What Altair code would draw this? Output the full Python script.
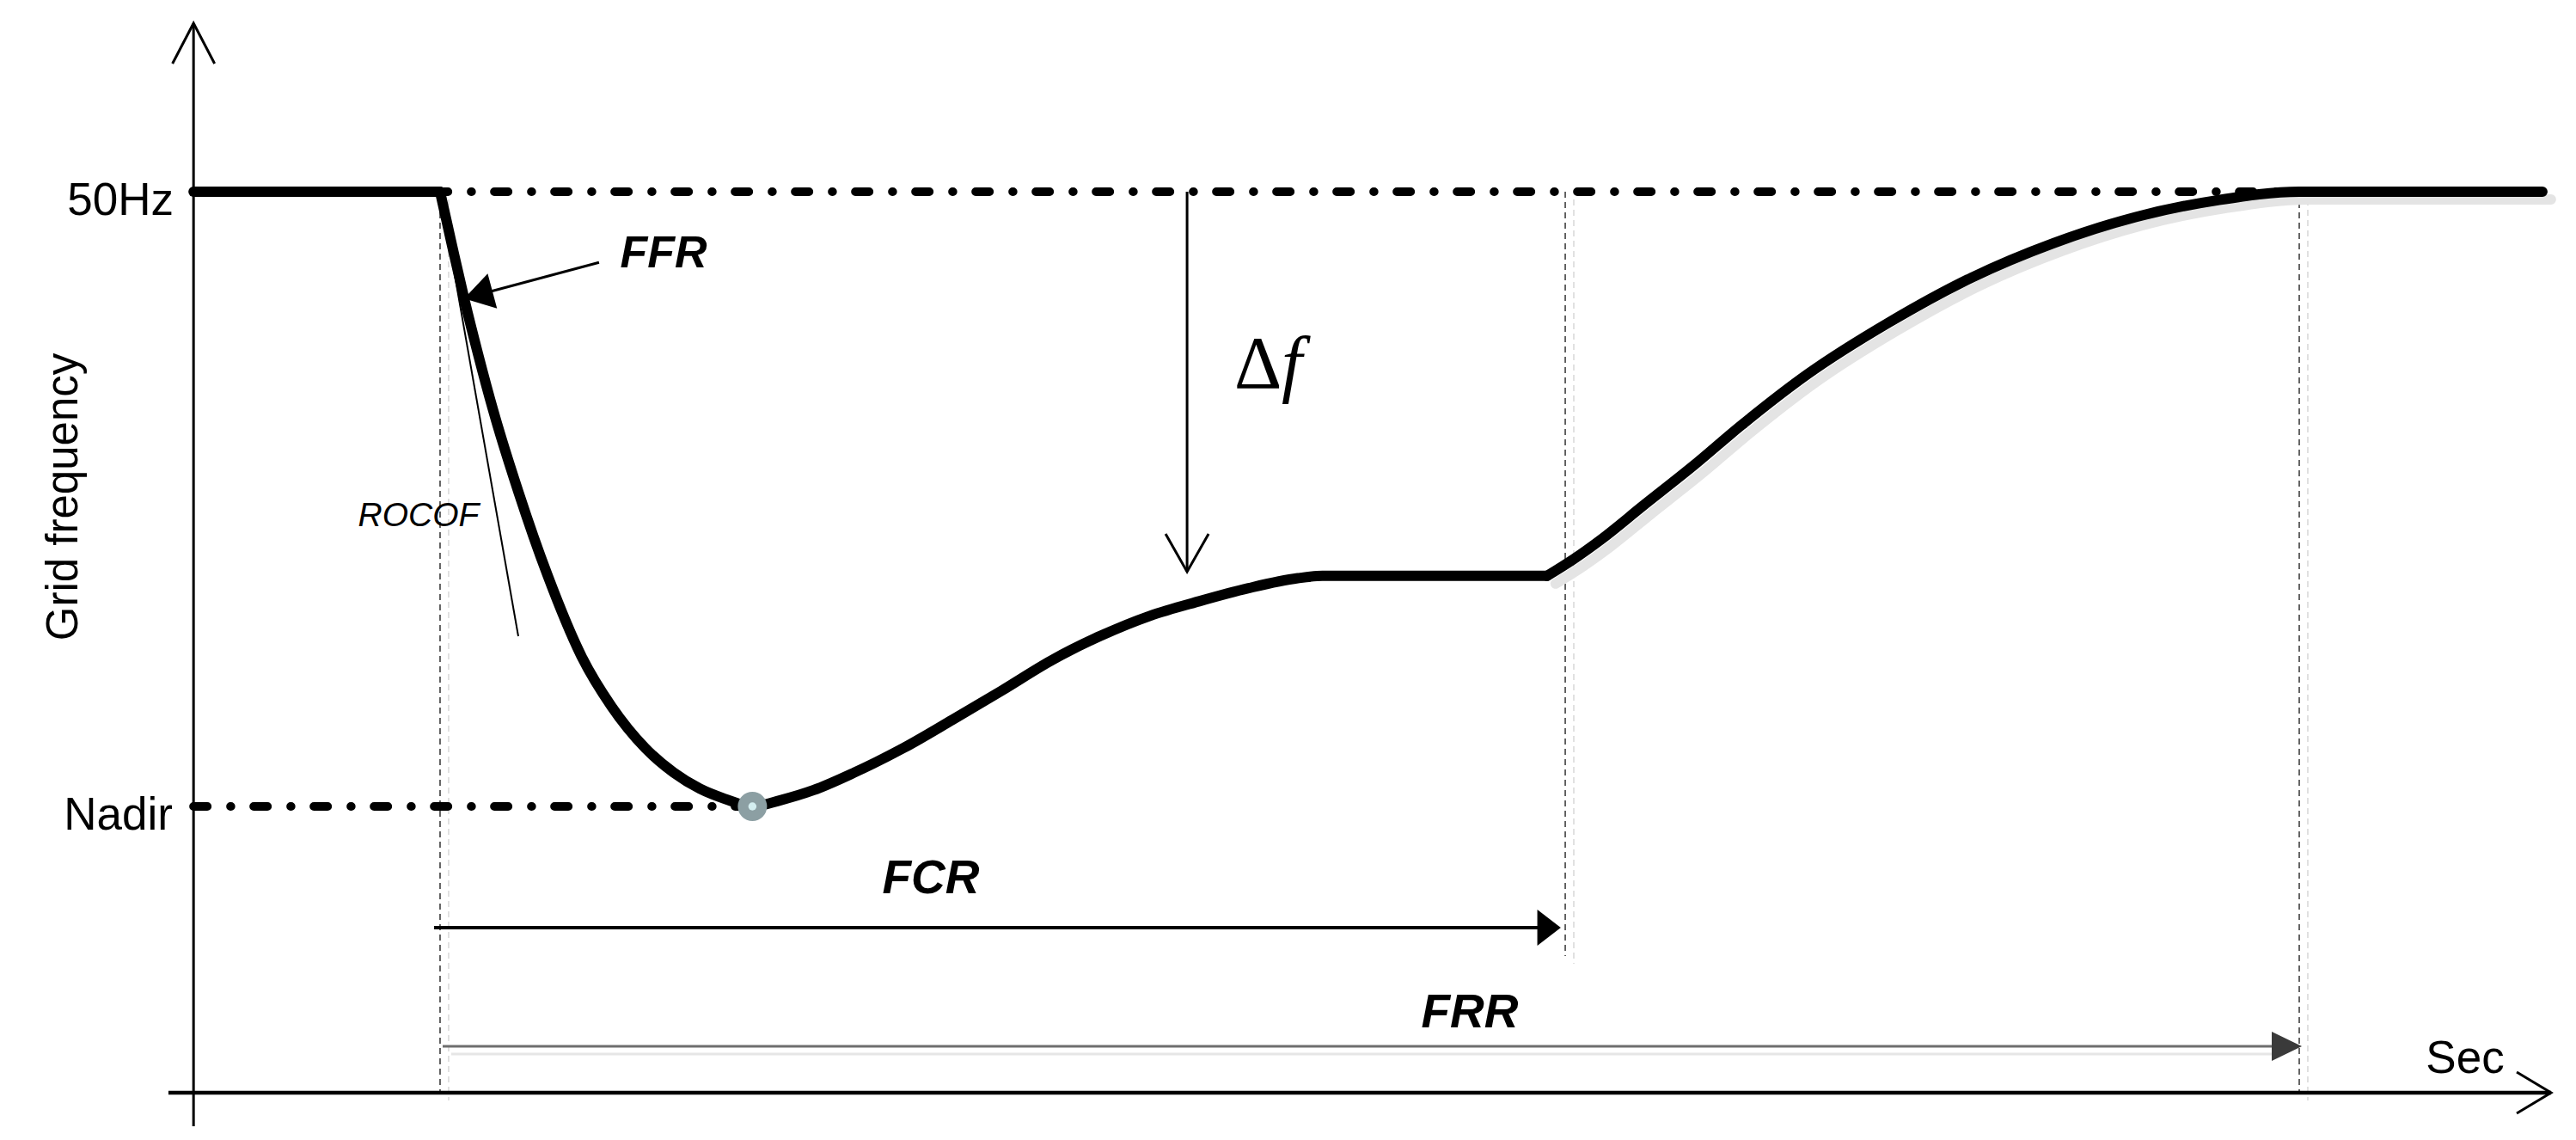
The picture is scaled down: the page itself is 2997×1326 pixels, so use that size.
import altair as alt
import pandas as pd

# ---------------- frequency trace: time after disturbance (s) / grid frequency (Hz) ----------------
pre_t = [-6.63, 0.0]
pre_f = [50.0, 50.0]
drop_t = [0.0, 0.327, 0.663, 1.025, 1.431, 2.116, 2.889, 3.817, 4.613, 5.518, 6.283, 6.990, 7.652, 8.40,
          9.150, 10.034, 11.138, 12.464, 13.789, 15.114, 16.440, 17.765, 19.091, 20.416, 21.742, 23.067, 23.73, 29.77]
drop_f = [50.0, 49.929, 49.858, 49.788, 49.715, 49.608, 49.501, 49.394, 49.330, 49.276, 49.244, 49.223, 49.210, 49.20,
          49.208, 49.221, 49.244, 49.276, 49.313, 49.351, 49.390, 49.422, 49.448, 49.467, 49.484, 49.497, 49.50, 49.50]
rise_t = [29.77, 30.49, 31.241, 32.345, 33.671, 34.996, 36.763, 38.972, 41.181, 43.390, 45.599, 47.809, 50.0, 56.54]
rise_f = [49.50, 49.522, 49.548, 49.591, 49.642, 49.696, 49.762, 49.830, 49.888, 49.933, 49.967, 49.989, 50.0, 50.0]

# ---------------- reference levels and instants ----------------
F_NOM = 50.0
F_NADIR = 49.2
T_EVENT = 0.0
T_NADIR = 8.4
T_FCR = 30.26
T_FRR = 50.0
T_AXIS = -6.63
F_AXIS = 48.8274
Y_AXIS_TOP = 50.2193
Y_AXIS_BOTTOM = 48.7838
X_AXIS_LEFT = -7.305
X_AXIS_RIGHT = 56.773
F_FCR_MARK_END = 49.0053

# annotation arrows
fcr_arrow_t = [-0.16, 30.14]
FCR_ARROW_F = 49.0422
frr_arrow_t = [0.07, 50.07]
FRR_ARROW_F = 48.8878
ffr_arrow_t = [4.276, 0.647]
ffr_arrow_f = [49.908, 49.861]
rocof_t = [0.0, 2.104]
rocof_f = [50.0, 49.4215]
DELTA_T = 20.09
delta_f = [50.0, 49.5055]

# labels
label_text = ["50Hz", "Nadir", "Grid frequency", "FFR", "ROCOF", "FCR", "FRR", "Sec", "Δ", "f"]
label_t = [-7.166, -7.19, -9.755, 6.010, -0.578, 13.199, 27.693, 54.46, 21.36, 22.63]
label_f = [49.9698, 49.1698, 49.6028, 49.9015, 49.5648, 49.0870, 48.9124, 48.8532, 49.7449, 49.7449]

# ---------------- styling constants ----------------
SHADOW_DT = 0.23
SHADOW_DF = 0.010
SANS = "Liberation Sans"
SERIF = "Liberation Serif"

xs = alt.Scale(domain=[-11.650, 57.258], nice=False, zero=False)
ys = alt.Scale(domain=[48.77482, 50.24056], nice=False, zero=False)


def X(field="t"):
    return alt.X(f"{field}:Q", scale=xs, axis=None)


def Y(field="f"):
    return alt.Y(f"{field}:Q", scale=ys, axis=None)


def rules(df, **style):
    return alt.Chart(df).mark_rule(**style).encode(
        x=X("t"), x2=alt.X2("t2"), y=Y("f"), y2=alt.Y2("f2"))


def label(i, **style):
    df = pd.DataFrame({"t": [label_t[i]], "f": [label_f[i]], "txt": [label_text[i]]})
    return alt.Chart(df).mark_text(baseline="alphabetic", color="black", **style).encode(
        x=X("t"), y=Y("f"), text="txt:N")


def point(t, f, **style):
    df = pd.DataFrame({"t": [t], "f": [f]})
    return alt.Chart(df).mark_point(opacity=1, **style).encode(x=X("t"), y=Y("f"))


# curve data
curve = pd.concat([
    pd.DataFrame({"t": pre_t, "f": pre_f, "seg": "pre"}),
    pd.DataFrame({"t": drop_t, "f": drop_f, "seg": "drop"}),
    pd.DataFrame({"t": rise_t, "f": rise_f, "seg": "rise"}),
], ignore_index=True)
curve["order"] = range(len(curve))

shadow = pd.DataFrame({"t": [v + SHADOW_DT for v in rise_t], "f": [v - SHADOW_DF for v in rise_f]})
shadow["order"] = range(len(shadow))

# verticals
vert = pd.DataFrame({"t": [T_EVENT, T_FCR, T_FRR], "t2": [T_EVENT, T_FCR, T_FRR],
                     "f": [F_NOM] * 3, "f2": [F_AXIS, F_FCR_MARK_END, F_AXIS]})
vert_sh = pd.DataFrame({"t": [T_EVENT + SHADOW_DT, T_FCR + SHADOW_DT, T_FRR + SHADOW_DT],
                        "t2": [T_EVENT + SHADOW_DT, T_FCR + SHADOW_DT, T_FRR + SHADOW_DT],
                        "f": [F_NOM - SHADOW_DF] * 3,
                        "f2": [F_AXIS - SHADOW_DF, F_FCR_MARK_END - SHADOW_DF, F_AXIS - SHADOW_DF]})

dashdot = pd.DataFrame({"t": [T_AXIS, T_AXIS], "t2": [T_FRR, T_NADIR], "f": [F_NOM, F_NADIR], "f2": [F_NOM, F_NADIR]})

layers = [
    rules(vert_sh, color="#dedede", strokeWidth=1.8, strokeDash=[7, 5]),
    rules(vert, color="#555555", strokeWidth=1.8, strokeDash=[7, 5]),
    # axes
    rules(pd.DataFrame({"t": [T_AXIS], "t2": [T_AXIS], "f": [Y_AXIS_BOTTOM], "f2": [Y_AXIS_TOP]}),
          color="black", strokeWidth=3),
    rules(pd.DataFrame({"t": [X_AXIS_LEFT], "t2": [X_AXIS_RIGHT], "f": [F_AXIS], "f2": [F_AXIS]}),
          color="black", strokeWidth=4.5),
    point(T_AXIS, Y_AXIS_TOP, shape="M-1,1.92L0,0L1,1.92", filled=False, color="black",
          strokeWidth=3, size=2401),
    point(X_AXIS_RIGHT, F_AXIS, shape="M-1,1.667L0,0L1,1.667", filled=False, color="black",
          strokeWidth=3, size=2304, angle=90),
    # FRR arrow
    rules(pd.DataFrame({"t": [frr_arrow_t[0] + SHADOW_DT], "t2": [frr_arrow_t[1] - 0.5],
                        "f": [FRR_ARROW_F - SHADOW_DF], "f2": [FRR_ARROW_F - SHADOW_DF]}),
          color="#e6e6e6", strokeWidth=3),
    rules(pd.DataFrame({"t": [frr_arrow_t[0]], "t2": [frr_arrow_t[1] - 0.3],
                        "f": [FRR_ARROW_F], "f2": [FRR_ARROW_F]}),
          color="#6e6e6e", strokeWidth=3),
    point(frr_arrow_t[1], FRR_ARROW_F, shape="M0,0L-2.06,-1L-2.06,1Z", filled=True, color="#3a3a3a", size=1156),
    # FCR arrow
    rules(pd.DataFrame({"t": [fcr_arrow_t[0]], "t2": [fcr_arrow_t[1] - 0.3],
                        "f": [FCR_ARROW_F], "f2": [FCR_ARROW_F]}),
          color="black", strokeWidth=4),
    point(fcr_arrow_t[1], FCR_ARROW_F, shape="M0,0L-1.3,-1L-1.3,1Z", filled=True, color="black", size=1764),
    # dash-dot reference levels
    rules(dashdot, color="black", strokeWidth=10, strokeDash=[16, 27, 0.5, 26.5], strokeCap="round"),
    # curve shadow and curve
    alt.Chart(shadow).mark_line(color="#e4e4e4", strokeWidth=12, strokeCap="round", strokeJoin="round",
                                interpolate="monotone").encode(x=X("t"), y=Y("f"), order="order:Q"),
    alt.Chart(curve).mark_line(color="black", strokeWidth=12, strokeCap="round", strokeJoin="round",
                               interpolate="monotone").encode(
        x=X("t"), y=Y("f"), detail="seg:N", order="order:Q"),
    # ROCOF tangent
    rules(pd.DataFrame({"t": [rocof_t[0]], "t2": [rocof_t[1]], "f": [rocof_f[0]], "f2": [rocof_f[1]]}),
          color="black", strokeWidth=2),
    # FFR arrow
    rules(pd.DataFrame({"t": [ffr_arrow_t[0]], "t2": [ffr_arrow_t[1]], "f": [ffr_arrow_f[0]], "f2": [ffr_arrow_f[1]]}),
          color="black", strokeWidth=3),
    point(ffr_arrow_t[1], ffr_arrow_f[1], shape="M0,0L-1.62,-1L-1.62,1Z", filled=True, color="black",
          size=1764, angle=165),
    # delta f arrow
    rules(pd.DataFrame({"t": [DELTA_T], "t2": [DELTA_T], "f": [delta_f[0]], "f2": [delta_f[1]]}),
          color="black", strokeWidth=3),
    point(DELTA_T, delta_f[1], shape="M-1,1.76L0,0L1,1.76", filled=False, color="black",
          strokeWidth=3, size=2500, angle=180),
    # nadir marker
    point(T_NADIR, F_NADIR, shape="circle", filled=True, color="#8c9fa3", size=1156),
    point(T_NADIR, F_NADIR, shape="circle", filled=True, color="#d4eef0", size=90),
    # labels
    label(0, font=SANS, fontSize=53, align="right"),
    label(1, font=SANS, fontSize=53, align="right"),
    label(2, font=SANS, fontSize=51, align="center", angle=270),
    label(3, font=SANS, fontSize=52, align="center", fontStyle="italic", fontWeight="bold"),
    label(4, font=SANS, fontSize=39, align="center", fontStyle="italic"),
    label(5, font=SANS, fontSize=55, align="center", fontStyle="italic", fontWeight="bold"),
    label(6, font=SANS, fontSize=55, align="center", fontStyle="italic", fontWeight="bold"),
    label(7, font=SANS, fontSize=53, align="center"),
    label(8, font=SERIF, fontSize=86, align="left"),
    label(9, font=SERIF, fontSize=86, align="left", fontStyle="italic"),
]

chart = alt.layer(*layers).properties(
    width=2981, height=1310, padding=0,
    autosize=alt.AutoSizeParams(type="none"),
).configure_view(stroke=None)

chart.save("out.html", embed_options={"renderer": "svg", "actions": False})
